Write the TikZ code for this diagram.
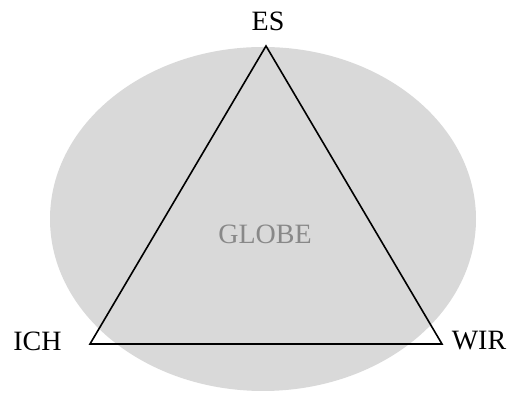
\documentclass[tikz,border=0pt]{standalone}
\usepackage{fontspec}
\setmainfont{Liberation Serif}
\definecolor{globefill}{HTML}{D9D9D9}
\definecolor{globetext}{HTML}{888888}
\tikzset{
  lbl/.style={font=\fontsize{28}{30}\selectfont, inner sep=0pt},
  edge/.style={line width=1.6pt, line join=miter}
}
\begin{document}
\begin{tikzpicture}[x=1pt,y=1pt]
\useasboundingbox (0,0) rectangle (507,419);
\fill[globefill] (263,200) ellipse [x radius=213, y radius=172];
\coordinate (top) at (266,373);
\coordinate (left) at (90,75);
\coordinate (right) at (442,75);
\draw[edge] (top) -- (left) -- (right) -- cycle;
\node[lbl] (es) at (268,397.5) {ES};
\node[lbl] (ich) at (37.5,78) {ICH};
\node[lbl] (wir) at (479,78) {WIR};
\node[lbl, text=globetext] (globe) at (265,185) {GLOBE};
\end{tikzpicture}
\end{document}
